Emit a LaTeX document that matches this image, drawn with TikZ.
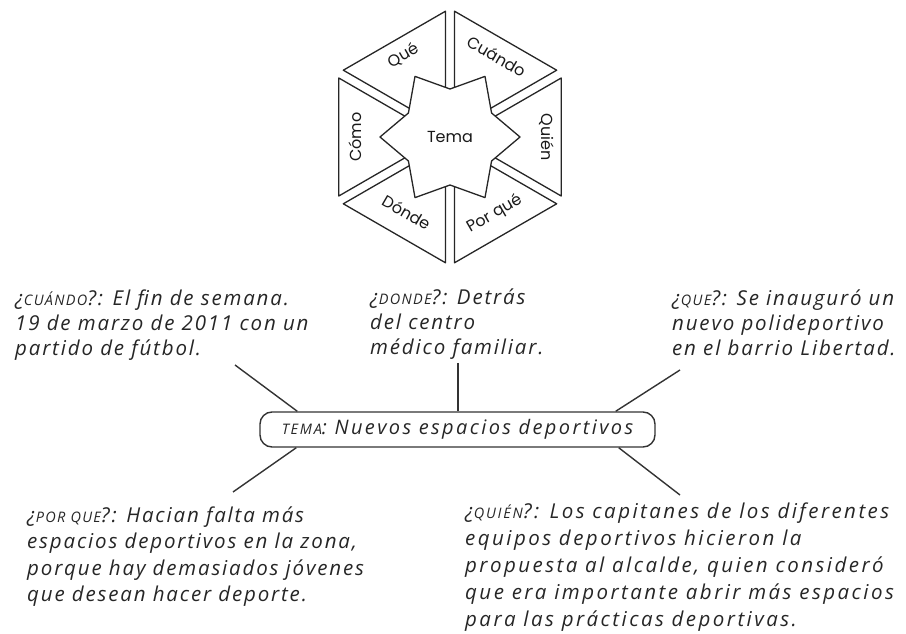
\documentclass[tikz,border=0pt]{standalone}
\usepackage{fontspec}
\setmainfont{Open Sans}
\newfontfamily\geofont{Poppins}
\newfontfamily\handfont[LetterSpace=9]{Open Sans}
\newfontfamily\handfontw[LetterSpace=12]{Open Sans}
\newcommand\capq[1]{{\fontsize{14.5}{14.5}\selectfont #1}}
\begin{document}
\begin{tikzpicture}[x=1pt,y=1pt,
  tri/.style={draw=black!85, line width=1.3pt, fill=white, line join=round},
  lbl/.style={font=\geofont\fontsize{16}{16}\selectfont, inner sep=0pt, text=black!90},
  handtop/.style={font=\handfont\itshape\fontsize{20.5}{25}\selectfont, align=left, anchor=north west, inner sep=0pt, text=black!85},
  handbot/.style={font=\handfont\itshape\fontsize{20.5}{26.5}\selectfont, align=left, anchor=north west, inner sep=0pt, text=black!85},
  conn/.style={draw=black!80, line width=1.4pt}]
\useasboundingbox (0,0) rectangle (906,633);
\coordinate (C) at (450,496);
% six triangles
\foreach \a in {0,60,...,300}{
  \draw[tri, shift={(C)}, shift={(\a:9)}] (0,0) -- (\a-30:118) -- (\a+30:118) -- cycle;
}
% star
\draw[tri, shift={(C)}] (0:70) -- (30:48) -- (60:70) -- (90:48) -- (120:70) -- (150:48)
  -- (180:70) -- (210:48) -- (240:70) -- (270:48) -- (300:70) -- (330:48) -- cycle;
\node[lbl] (tema0) at (C) {Tema};
\node[lbl, rotate=30]  (que)    at ([shift={(120:94)}]C) {Qué};
\node[lbl, rotate=-30] (cuando) at ([shift={(60:93)}]C) {Cuándo};
\node[lbl, rotate=-90] (quien)  at ([shift={(0:97)}]C) {Quién};
\node[lbl, rotate=90]  (como)   at ([shift={(180:95)}]C) {Cómo};
\node[lbl, rotate=-30] (donde)  at ([shift={(240:87)}]C) {Dónde};
\node[lbl, rotate=30]  (porque) at ([shift={(300:89)}]C) {Por qué};
% central theme
\node[draw=black!80, line width=1.4pt, rounded corners=12pt, minimum width=395pt, minimum height=35pt,
  font=\handfontw\itshape\fontsize{20}{22}\selectfont, text=black!85] (tema) at (457.5,203.5)
  {\capq{TEMA}: Nuevos espacios deportivos};
% text blocks
\node[handtop] (tcuando) at (15,343) {¿\capq{CUÁNDO}?: El fin de semana.\\19 de marzo de 2011 con un\\partido de fútbol.};
\node[handtop] (tdonde) at (370,344) {¿\capq{DONDE}?: Detrás\\del centro\\médico familiar.};
\node[handtop] (tque) at (672,343) {¿\capq{QUE}?: Se inauguró un\\nuevo polideportivo\\en el barrio Libertad.};
\node[handbot] (tporque) at (27,126.5) {¿\capq{POR QUE}?: Hacian falta más\\espacios deportivos en la zona,\\porque hay demasiados jóvenes\\que desean hacer deporte.};
\node[handbot, font=\handfontw\itshape\fontsize{20.5}{27}\selectfont] (tquien) at (465,130.5) {¿\capq{QUIÉN}?: Los capitanes de los diferentes\\equipos deportivos hicieron la\\propuesta al alcalde, quien consideró\\que era importante abrir más espacios\\para las prácticas deportivas.};
% connectors
\coordinate (cc) at (235,268);
\coordinate (cd) at (458,270);
\coordinate (cq) at (680,263);
\coordinate (cp) at (233,141);
\coordinate (cw) at (680,138);
\draw[conn] (cc) -- ([xshift=38pt]tema.north west);
\draw[conn] (cd) -- ([xshift=0.5pt]tema.north);
\draw[conn] (cq) -- ([xshift=-40pt]tema.north east);
\draw[conn] (cp) -- ([xshift=37pt]tema.south west);
\draw[conn] (cw) -- ([xshift=-37pt]tema.south east);
\end{tikzpicture}
\end{document}
